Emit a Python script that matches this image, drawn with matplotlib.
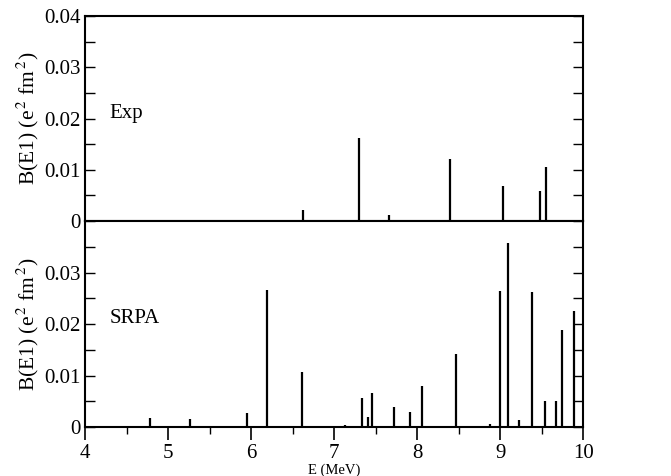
import matplotlib.pyplot as plt
from matplotlib.ticker import MultipleLocator, FixedLocator

plt.rcParams["font.family"] = "serif"
plt.rcParams["font.serif"] = ["Liberation Serif", "DejaVu Serif"]
plt.rcParams["mathtext.fontset"] = "stix"

# experimental B(E1) strengths
exp_energy = [4.70, 6.62, 7.30, 7.66, 8.39, 9.04, 9.48, 9.55]
exp_bE1 = [0.0002, 0.00215, 0.0163, 0.0011, 0.0122, 0.0068, 0.0059, 0.0105]

# SRPA B(E1) strengths
srpa_energy = [4.78, 5.26, 5.95, 6.195, 6.61, 7.13, 7.34, 7.41, 7.46, 7.72, 7.92,
               8.06, 8.47, 8.88, 9.00, 9.10, 9.23, 9.385, 9.46, 9.54, 9.67, 9.75, 9.895]
srpa_bE1 = [0.0018, 0.0015, 0.0028, 0.0266, 0.0106, 0.0003, 0.0056, 0.0019, 0.0066,
            0.0038, 0.0029, 0.0079, 0.0142, 0.00065, 0.0264, 0.0358, 0.0014, 0.0263,
            0.0002, 0.0051, 0.0051, 0.0189, 0.0225]

labels = ["Exp", "SRPA"]

fig = plt.figure(figsize=(6.71, 4.76), dpi=100)
left, right = 0.127, 0.869
ax1 = fig.add_axes([left, 0.5357, right - left, 0.966 - 0.5357])
ax2 = fig.add_axes([left, 0.1029, right - left, 0.5357 - 0.1029])

ylabel = r"B(E1) (e$^{\,2}$ fm$^{\,2}$)"

for ax, x, y, lab in [(ax1, exp_energy, exp_bE1, labels[0]),
                      (ax2, srpa_energy, srpa_bE1, labels[1])]:
    ax.vlines(x, 0, y, color="black", linewidth=1.6)
    ax.set_xlim(4, 10)
    ax.set_ylim(0, 0.04)
    ax.xaxis.set_major_locator(MultipleLocator(1))
    ax.xaxis.set_minor_locator(MultipleLocator(0.5))
    ax.yaxis.set_minor_locator(MultipleLocator(0.005))
    ax.tick_params(axis="x", which="major", direction="out", length=9, width=1.2,
                   top=False, labelsize=15)
    ax.tick_params(axis="x", which="minor", direction="out", length=5, width=1.0, top=False)
    ax.tick_params(axis="y", which="both", direction="in", length=7, width=1.0,
                   left=True, right=True, labelsize=15)
    for s in ax.spines.values():
        s.set_linewidth(1.5)
    ax.set_ylabel(ylabel, fontsize=15.5)
    ax.text(4.29, 0.021, lab, fontsize=15, va="center", ha="left")

ax1.yaxis.set_major_locator(FixedLocator([0, 0.01, 0.02, 0.03, 0.04]))
ax1.set_yticklabels(["0", "0.01", "0.02", "0.03", "0.04"])
ax1.tick_params(axis="x", labelbottom=False)
ax2.yaxis.set_major_locator(FixedLocator([0, 0.01, 0.02, 0.03]))
ax2.set_yticklabels(["0", "0.01", "0.02", "0.03"])
ax2.set_xticks([4, 5, 6, 7, 8, 9, 10])
ax2.set_xticklabels(["4", "5", "6", "7", "8", "9", "10"])
ax2.set_xlabel("E (MeV)", fontsize=10.5, labelpad=0)

ax1.yaxis.set_label_coords(-0.088, 0.5)
ax2.yaxis.set_label_coords(-0.088, 0.5)

fig.savefig("out.png", dpi=100)
